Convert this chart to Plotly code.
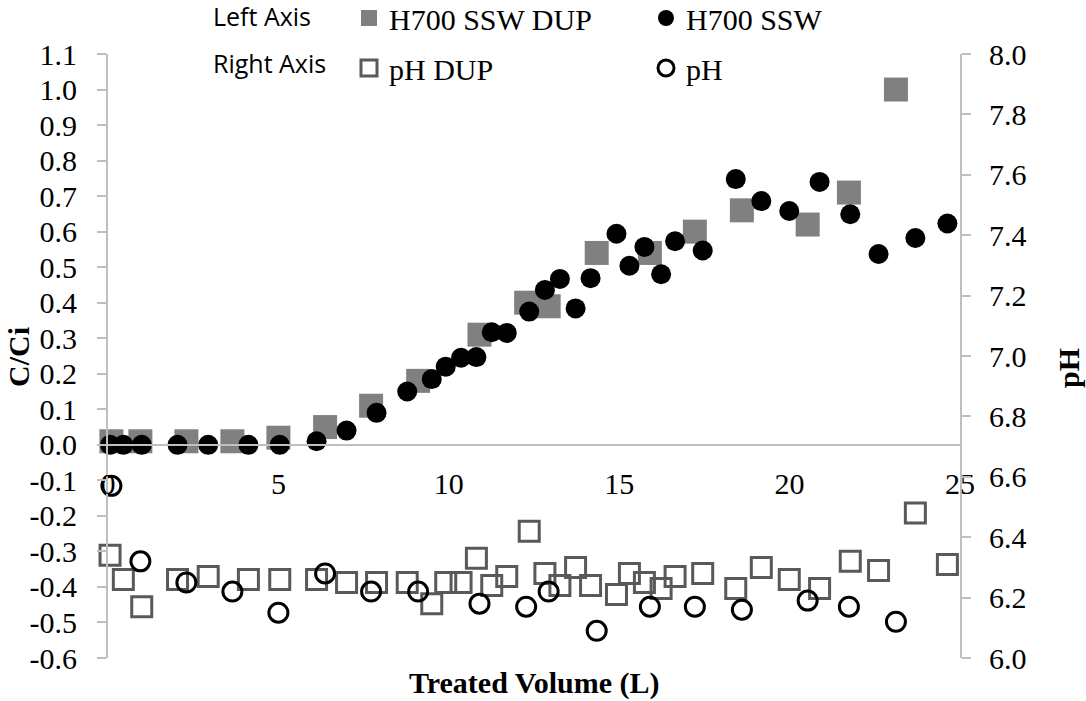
import plotly.graph_objects as go

# Treated volume (L) for the H700 SSW run and its pH duplicate readings
volume_ssw = [0.06, 0.45, 0.99, 2.04, 2.94, 4.12, 5.04, 6.12, 7.0, 7.88, 8.78, 9.5,
              9.91, 10.36, 10.81, 11.26, 11.7, 12.36, 12.82, 13.26, 13.72, 14.16,
              14.92, 15.3, 15.74, 16.23, 16.64, 17.45, 18.42, 19.17, 19.99, 20.88,
              21.78, 22.61, 23.69, 24.63]
c_ssw = [0.0, 0.0, 0.0, 0.0, 0.0, 0.0, 0.0, 0.01, 0.04, 0.09, 0.15, 0.185,
         0.22, 0.245, 0.247, 0.317, 0.315, 0.375, 0.436, 0.467, 0.384, 0.469,
         0.594, 0.504, 0.557, 0.48, 0.573, 0.547, 0.748, 0.686, 0.658, 0.74,
         0.649, 0.537, 0.582, 0.623]
ph_dup = [6.34, 6.26, 6.17, 6.26, 6.27, 6.26, 6.26, 6.26, 6.25, 6.25, 6.25, 6.18,
          6.25, 6.25, 6.33, 6.24, 6.27, 6.42, 6.28, 6.24, 6.30, 6.24,
          6.21, 6.28, 6.25, 6.23, 6.27, 6.28, 6.23, 6.30, 6.26, 6.23,
          6.32, 6.29, 6.48, 6.31]

# Treated volume (L) for the duplicate column and the matching pH readings
volume_dup = [0.1, 0.95, 2.3, 3.65, 5.0, 6.37, 7.72, 9.1, 10.9, 12.27, 12.93,
              14.34, 15.9, 17.22, 18.6, 20.53, 21.74, 23.12]
c_dup = [0.01, 0.01, 0.01, 0.01, 0.02, 0.05, 0.11, 0.18, 0.31, 0.40, 0.39,
         0.54, 0.54, 0.60, 0.66, 0.62, 0.71, 1.0]
ph = [6.57, 6.32, 6.25, 6.22, 6.15, 6.28, 6.22, 6.22, 6.18, 6.17, 6.22,
      6.09, 6.17, 6.17, 6.16, 6.19, 6.17, 6.12]

# Axis ticks
c_ticks = [-0.6, -0.5, -0.4, -0.3, -0.2, -0.1, 0.0, 0.1, 0.2, 0.3, 0.4, 0.5,
           0.6, 0.7, 0.8, 0.9, 1.0, 1.1]
c_tick_labels = ["-0.6", "-0.5", "-0.4", "-0.3", "-0.2", "-0.1", "0.0", "0.1",
                 "0.2", "0.3", "0.4", "0.5", "0.6", "0.7", "0.8", "0.9", "1.0", "1.1"]
ph_ticks = [6.0, 6.2, 6.4, 6.6, 6.8, 7.0, 7.2, 7.4, 7.6, 7.8, 8.0]
ph_tick_labels = ["6.0", "6.2", "6.4", "6.6", "6.8", "7.0", "7.2", "7.4", "7.6",
                  "7.8", "8.0"]
vol_ticks = [0, 5, 10, 15, 20, 25]
vol_tick_labels = ["0", "5", "10", "15", "20", "25"]

SERIF = "Liberation Serif"
SANS = "Open Sans"
AXIS_GREY = "#BFBFBF"
C_RANGE = [-0.6, 1.1]
PH_RANGE = [6.0, 8.0]

# figure / plot-area size in px, used to place the free-standing labels
L, R, T, B = 108, 126, 54, 43
W, H = 1086, 701
PW, PH = W - L - R, H - T - B


def px_x(px):
    return (px - L) / PW


def px_y(py):
    return (H - B - py) / PH


def cx(px):
    return px / W


def cy(py):
    return 1 - py / H


fig = go.Figure()
fig.add_trace(go.Scatter(
    x=volume_dup, y=c_dup, mode="markers", name="H700 SSW DUP", yaxis="y",
    marker=dict(symbol="square", size=24, color="#808080"),
    cliponaxis=False, legend="legend"))
fig.add_trace(go.Scatter(
    x=volume_ssw, y=c_ssw, mode="markers", name="H700 SSW", yaxis="y",
    marker=dict(symbol="circle", size=20, color="#000000"),
    cliponaxis=False, legend="legend2"))
fig.add_trace(go.Scatter(
    x=volume_ssw, y=ph_dup, mode="markers", name="pH DUP", yaxis="y2",
    marker=dict(symbol="square-open", size=20, color="#595959",
                line=dict(width=3, color="#595959")),
    cliponaxis=False, legend="legend3"))
fig.add_trace(go.Scatter(
    x=volume_dup, y=ph, mode="markers", name="pH", yaxis="y2",
    marker=dict(symbol="circle-open", size=19, color="#000000",
                line=dict(width=3, color="#000000")),
    cliponaxis=False, legend="legend4"))

label_font = dict(family=SERIF, size=30, color="black")
legend_common = dict(orientation="h", xanchor="left", yanchor="middle",
                     xref="container", yref="container",
                     font=label_font, bgcolor="rgba(0,0,0,0)", itemclick=False)

y_common = dict(showgrid=False, zeroline=False, tickwidth=2, tickcolor=AXIS_GREY,
                ticklen=9, automargin=False)

bold = dict(family=SERIF, size=30, color="black", weight="bold")

fig.update_layout(
    template="none",
    width=W, height=H, autosize=False,
    margin=dict(l=L, r=R, t=T, b=B, autoexpand=False),
    plot_bgcolor="white", paper_bgcolor="white",
    font=label_font,
    showlegend=True,
    xaxis=dict(range=[0, 25], anchor="free", position=0.6 / 1.7,
               showline=True, linecolor=AXIS_GREY, linewidth=2,
               ticks="", tickvals=vol_ticks, ticktext=vol_tick_labels,
               tickfont=label_font, showgrid=False, zeroline=False,
               ticklabelstandoff=12, automargin=False),
    yaxis=dict(range=C_RANGE, tickvals=c_ticks, ticktext=c_tick_labels,
               ticks="outside", showline=True, linecolor=AXIS_GREY, linewidth=2,
               tickfont=label_font, ticklabelstandoff=14, **y_common),
    yaxis2=dict(range=PH_RANGE, tickvals=ph_ticks, ticktext=ph_tick_labels,
                overlaying="y", side="right", anchor="x",
                ticks="outside", showline=True, linecolor=AXIS_GREY, linewidth=2,
                tickfont=label_font, ticklabelstandoff=12, **y_common),
    # inner halves of the cross-style tick marks
    yaxis3=dict(range=C_RANGE, tickvals=c_ticks, overlaying="y", side="left",
                anchor="x", ticks="inside", showticklabels=False, showline=False,
                **y_common),
    yaxis4=dict(range=PH_RANGE, tickvals=ph_ticks, overlaying="y", side="right",
                anchor="x", ticks="inside", showticklabels=False, showline=False,
                **y_common),
    legend=dict(x=cx(349), y=cy(18), **legend_common),
    legend2=dict(x=cx(646), y=cy(18), **legend_common),
    legend3=dict(x=cx(349), y=cy(68), **legend_common),
    legend4=dict(x=cx(646), y=cy(68), **legend_common),
    annotations=[
        dict(text="C/Ci", x=px_x(18), y=px_y(357), xref="paper", yref="paper",
             textangle=-90, showarrow=False, xanchor="center", yanchor="middle",
             font=bold),
        dict(text="pH", x=px_x(1068), y=px_y(368), xref="paper", yref="paper",
             textangle=-90, showarrow=False, xanchor="center", yanchor="middle",
             font=bold),
        dict(text="Treated Volume (L)", x=0.5, y=px_y(683), xref="paper",
             yref="paper", showarrow=False, xanchor="center", yanchor="middle",
             font=bold),
        dict(text="Left Axis", x=px_x(211), y=px_y(16), xref="paper",
             yref="paper", showarrow=False, xanchor="left", yanchor="middle",
             font=dict(family=SANS, size=25, color="black")),
        dict(text="Right Axis", x=px_x(211), y=px_y(63), xref="paper",
             yref="paper", showarrow=False, xanchor="left", yanchor="middle",
             font=dict(family=SANS, size=25, color="black")),
    ],
)

fig.write_html("out.html")
